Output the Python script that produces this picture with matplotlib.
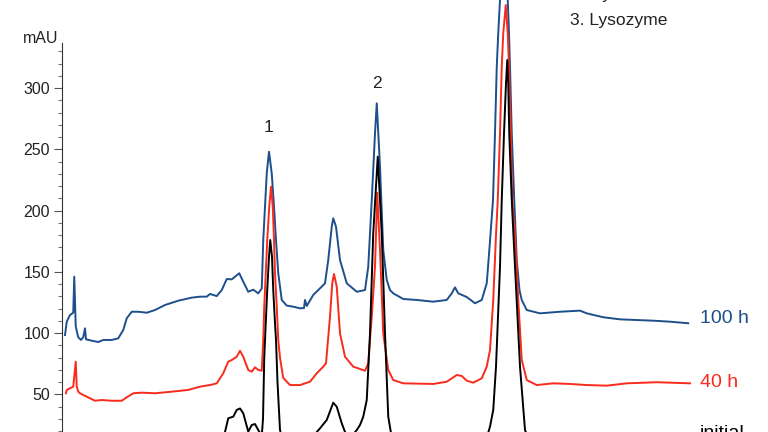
import matplotlib
matplotlib.use("Agg")
import matplotlib.pyplot as plt
from matplotlib.ticker import FixedLocator

plt.rcParams['font.family'] = ['Liberation Sans', 'DejaVu Sans']

# retention time (min) and absorbance (mAU)
t_100h = [0.12, 0.19, 0.32, 0.45, 0.49, 0.55, 0.65, 0.76, 0.85, 0.92, 0.96, 1.19, 1.45, 1.65, 1.99,
          2.25, 2.45, 2.59, 2.79, 3.05, 3.39, 3.72, 4.12, 4.65, 5.19, 5.52, 5.79, 5.92, 6.19, 6.39,
          6.59, 6.79, 7.09, 7.25, 7.45, 7.65, 7.85, 7.99, 8.01, 8.05, 8.12, 8.19, 8.28, 8.39, 8.48,
          8.56, 8.65, 8.79, 8.99, 9.25, 9.52, 9.68, 9.72, 9.79, 10.05, 10.32, 10.52, 10.65, 10.79,
          10.85, 10.96, 11.12, 11.39, 11.79, 12.12, 12.25, 12.39, 12.52, 12.59, 12.72, 12.85, 12.99,
          13.12, 13.25, 13.65, 14.19, 14.85, 15.39, 15.59, 15.72, 15.85, 16.19, 16.52, 16.79, 16.99,
          17.12, 17.24, 17.32, 17.39, 17.45, 17.52, 17.68, 17.83, 17.88, 17.92, 17.99, 18.09, 18.19,
          18.30, 18.39, 18.59, 19.12, 19.92, 20.72, 20.99, 21.65, 22.32, 23.65, 24.32, 25.05]
mau_100h = [98.5, 109.4, 114.8, 116.7, 146.1, 105.3, 96.7, 94.5, 96.7, 104.0, 95.0, 93.9, 92.8, 94.5, 94.5,
            95.8, 102.6, 112.2, 117.5, 117.5, 116.7, 118.9, 123.0, 126.5, 129.0, 129.8, 129.8, 132.0, 130.3, 135.2,
            144.2, 143.9, 148.9, 142.0, 133.8, 135.5, 132.5, 136.5, 148.9, 176.0, 203.2, 230.4, 248.0, 230.4, 203.2,
            176.0, 148.9, 127.1, 122.5, 121.6, 120.3, 120.5, 127.1, 122.2, 131.2, 136.6, 140.7, 159.7, 186.9,
            193.7, 186.9, 159.7, 140.7, 133.8, 135.2, 154.2, 208.6, 263.0, 287.5, 235.8, 167.9, 143.4,
            135.2, 132.5, 127.9, 127.1, 125.7, 127.1, 132.5, 137.4, 132.5, 129.5, 124.4, 127.1, 140.7,
            175.0, 208.6, 263.0, 317.4, 344.6, 371.8, 384.0, 371.8, 344.6, 317.4, 263.0, 208.6, 159.7,
            135.0, 127.1, 118.9, 116.2, 117.5, 118.4, 116.2, 113.0, 111.3, 110.2, 109.4, 108.1]

t_40h = [0.16, 0.19, 0.32, 0.45, 0.55, 0.59, 0.65, 0.72, 0.85, 0.99, 1.12, 1.32, 1.59, 1.99, 2.39,
         2.59, 2.85, 3.19, 3.72, 4.39, 5.05, 5.52, 5.92, 6.19, 6.45, 6.65, 6.79, 6.99, 7.12, 7.25,
         7.45, 7.59, 7.72, 7.85, 7.99, 8.05, 8.09, 8.15, 8.21, 8.29, 8.36, 8.43, 8.48, 8.52, 8.59,
         8.65, 8.72, 8.85, 9.12, 9.52, 9.92, 10.19, 10.45, 10.56, 10.72, 10.81, 10.88, 10.99, 11.12,
         11.32, 11.65, 12.12, 12.25, 12.39, 12.52, 12.61, 12.72, 12.85, 13.05, 13.25, 13.65, 14.85,
         15.39, 15.79, 15.99, 16.19, 16.45, 16.79, 16.99, 17.12, 17.25, 17.36, 17.43, 17.52, 17.59,
         17.65, 17.75, 17.83, 17.88, 17.95, 18.01, 18.12, 18.25, 18.39, 18.59, 18.99, 19.65, 20.32,
         20.99, 21.79, 22.59, 23.79, 25.12]
mau_40h = [51.0, 53.7, 55.1, 56.4, 76.8, 56.4, 52.3, 51.0, 49.6, 48.2, 46.9, 44.9, 45.5, 44.9, 44.9,
           47.7, 51.0, 51.5, 51.0, 52.3, 53.7, 56.4, 57.7, 59.1, 67.3, 76.8, 78.1, 80.8, 85.7, 80.8,
           70.0, 68.6, 72.2, 70.0, 69.4, 94.5, 121.6, 148.9, 176.0, 203.2, 219.5, 203.2, 176.0, 148.9, 121.6,
           94.5, 80.0, 63.5, 57.7, 57.7, 60.4, 67.3, 72.7, 75.4, 113.5, 140.7, 148.3, 137.9, 99.9,
           80.8, 72.7, 69.4, 75.4, 113.5, 154.2, 214.6, 167.9, 99.9, 70.0, 61.8, 59.1, 58.6,
           60.4, 65.9, 65.1, 61.3, 59.6, 63.2, 72.7, 86.3, 127.1, 180.0, 208.6, 263.0, 317.4,
           344.6, 367.7, 344.6, 317.4, 263.0, 208.6, 181.5, 127.1, 78.1, 61.8, 57.7, 59.1, 58.6,
           57.7, 57.2, 59.1, 60.0, 59.1]

t_initial = [0.15, 0.5, 0.55, 0.62, 1.3, 2.4, 2.9, 5.0, 5.9, 6.3, 6.52, 6.65, 6.85, 6.99, 7.12,
             7.25, 7.45, 7.59, 7.72, 7.85, 7.99, 8.04, 8.09, 8.15, 8.21, 8.28, 8.33, 8.40, 8.45,
             8.52, 8.56, 8.62, 8.72, 8.88, 9.52, 10.0, 10.19, 10.32, 10.59, 10.85, 10.99, 11.19,
             11.32, 11.52, 11.79, 11.92, 12.05, 12.19, 12.32, 12.45, 12.63, 12.79, 12.92, 13.05,
             13.15, 13.32, 14.32, 15.92, 16.32, 16.72, 16.96, 17.12, 17.25, 17.36, 17.52, 17.59,
             17.68, 17.76, 17.81, 17.85, 17.89, 17.99, 18.12, 18.32, 18.52, 18.72, 19.92, 22.32, 25.12]
mau_initial = [2, 5, 14, 4, -4, -4, 1, 3, 7, 12, 19.4, 30.6, 31.9, 37.4, 38.6,
               34.7, 19.7, 25.1, 25.9, 21.0, 16.2, 30.0, 80.0, 108.1, 135.2, 162.4, 176.0, 162.4, 135.2,
               108.1, 94.5, 60.0, 21.0, 8.8, 4.7, 6.4, 19.4, 22.4, 29.2, 43.3, 40.0, 26.5,
               19.4, 14.5, 21.0, 25.1, 31.9, 45.5, 99.9, 181.5, 244.0, 181.5, 99.9, 31.9,
               19.7, 11.3, 7.2, 9.6, 12.9, 8.0, 12.9, 23.7, 37.4, 72.7, 154.2, 208.6,
               263.0, 303.8, 322.8, 303.8, 263.0, 208.6, 154.2, 72.7, 21.0, 11.3, 8.0, 8.0, 7.2]

peak_names = ["1. Ribonuclease A", "2. Cytochrome c", "3. Lysozyme"]
peak_numbers = ["1", "2"]
peak_number_pos = [(8.25, 267.4), (12.59, 303.8)]

blue = '#1d4f8c'
red = '#fa2a1c'

fig = plt.figure(figsize=(7.68, 4.32), dpi=100)
ax = fig.add_axes([62 / 768, 0, 706 / 768, 1])

ax.plot(t_100h, mau_100h, color=blue, lw=1.4)
ax.plot(t_40h, mau_40h, color=red, lw=1.4)
ax.plot(t_initial, mau_initial, color='black', lw=1.4)

ax.set_xlim(0, 28.24)
ax.set_ylim(19.4, 371.8)

#only the left axis is drawn
for s in ['top', 'right', 'bottom']:
    ax.spines[s].set_visible(False)
ax.spines['left'].set_bounds(19.4, 336.7)
ax.spines['left'].set_color('#333333')
ax.spines['left'].set_linewidth(0.8)
ax.set_xticks([])

ax.yaxis.set_major_locator(FixedLocator([50, 100, 150, 200, 250, 300]))
ax.yaxis.set_minor_locator(FixedLocator([v for v in range(20, 340, 10) if v % 50 != 0]))
ax.tick_params(axis='y', which='major', length=6, width=0.8, color='#555555', pad=2.5,
               labelsize=11.5, labelcolor='#222222')
ax.tick_params(axis='y', which='minor', length=3, width=0.8, color='#777777')

ax.text(-0.86, 340.8, "mAU", ha='center', va='center', fontsize=11.5, color='#222222', clip_on=False)

for lab, (x, y) in zip(peak_numbers, peak_number_pos):
    ax.text(x, y, lab, ha='center', va='center', fontsize=12.5, color='#222222')

# peak list, top lines run off the top of the picture
ax.text(20.32, 351.4, "\n".join(peak_names), ha='left', va='baseline',
        fontsize=12.6, linespacing=1.95, color='#222222')

ax.text(25.52, 108.3, "100 h", ha='left', va='baseline', fontsize=14, color=blue)
ax.text(25.52, 56.1, "40 h", ha='left', va='baseline', fontsize=14, color=red)
ax.text(25.52, 14.1, "initial", ha='left', va='baseline', fontsize=14, color='black', clip_on=False)

fig.savefig("out.png", dpi=100)
